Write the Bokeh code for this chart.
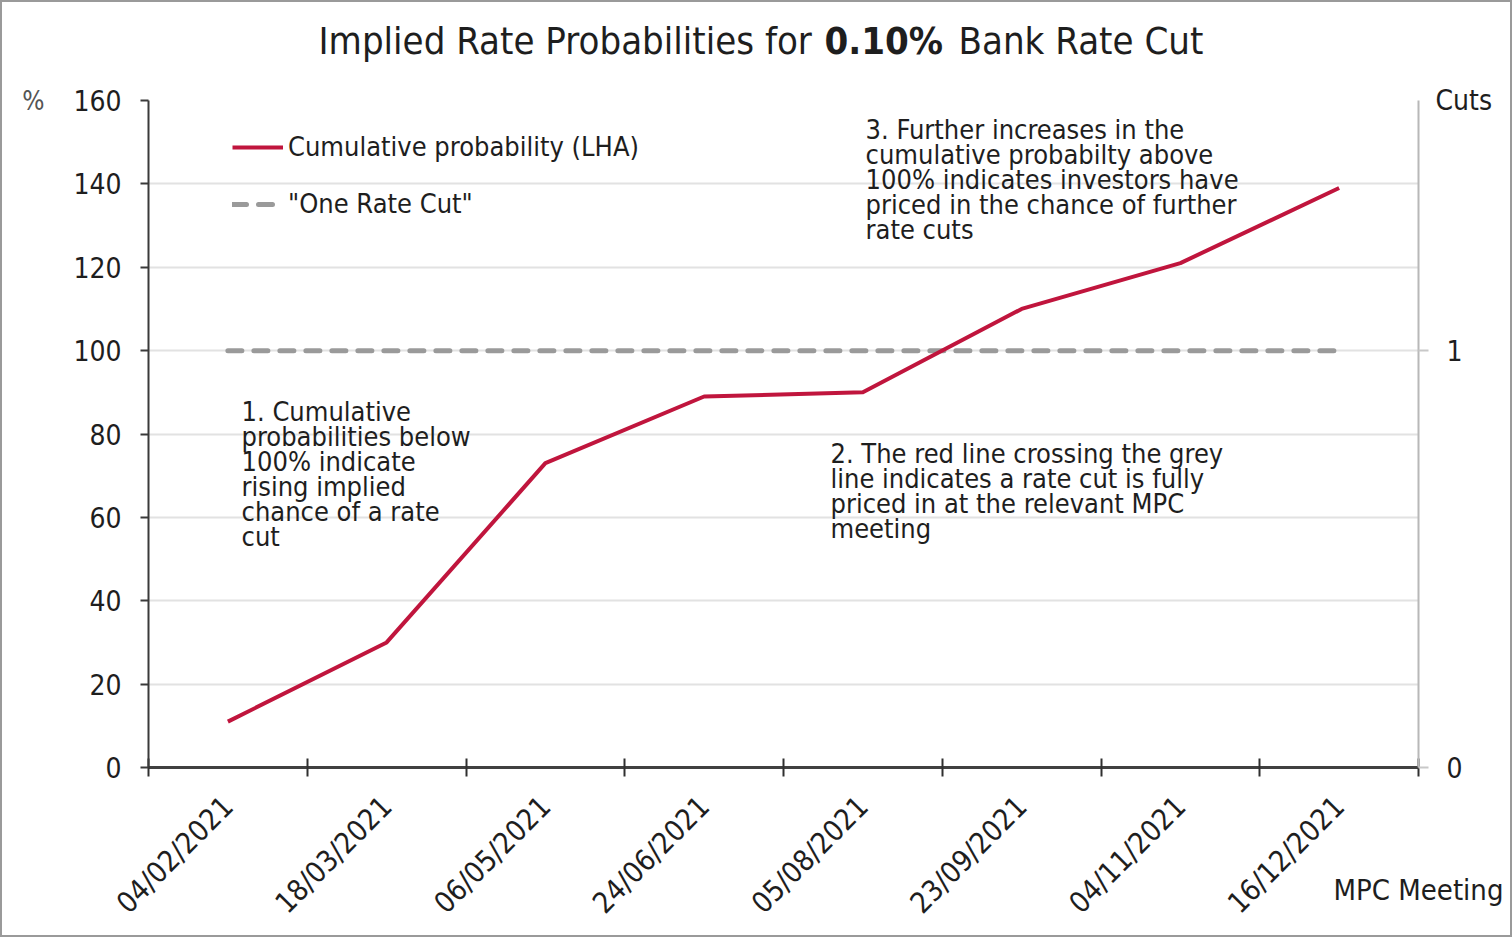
import math
from bokeh.plotting import figure
from bokeh.layouts import column
from bokeh.models import (Range1d, LinearAxis, FixedTicker, Label, Legend, LegendItem,
                          ColumnDataSource, Grid)
from bokeh.embed import file_html
from bokeh.resources import INLINE

# ---- data ----
meetings = ["04/02/2021", "18/03/2021", "06/05/2021", "24/06/2021",
            "05/08/2021", "23/09/2021", "04/11/2021", "16/12/2021"]
cum_prob = [11, 30, 73, 89, 90, 110, 121, 139]
one_rate_cut = [100, 100, 100, 100, 100, 100, 100, 100]
y_ticks = [0, 20, 40, 60, 80, 100, 120, 140, 160]
cuts_ticks = [0, 1]

note1 = ["1. Cumulative", "probabilities below", "100% indicate", "rising implied",
         "chance of a rate", "cut"]
note2 = ["2. The red line crossing the grey", "line indicates a rate cut is fully",
         "priced in at the relevant MPC", "meeting"]
note3 = ["3. Further increases in the", "cumulative probabilty above",
         "100% indicates investors have", "priced in the chance of further", "rate cuts"]

FONT = "DejaVu Sans Condensed"
TXT = "#1e1e1e"
RED = "#c0153d"
GREY = "#9a9a9a"
EDGE = "#9a9a9a"

W, H = 1512, 937
HEAD = 80
FR_L, FR_R = 148, 1418   # plot frame edges in page pixels

n = len(meetings)
xpos = [i + 0.5 for i in range(n)]
src = ColumnDataSource(dict(x=xpos, prob=cum_prob, one=one_rate_cut, meeting=meetings))

# ---------- header (title); its frame is aligned with the chart frame ----------
head = figure(width=W, height=HEAD, x_range=Range1d(FR_L, FR_R), y_range=Range1d(0, HEAD),
              output_backend="svg", toolbar_location=None,
              x_axis_location=None, y_axis_location=None,
              min_border_left=FR_L, min_border_right=W - FR_R,
              min_border_top=0, min_border_bottom=0)
head.outline_line_color = None
head.center = []
head.background_fill_color = None
head.border_fill_color = None
head.styles = {"box-shadow": f"inset 2px 2px 0 0 {EDGE}, inset -2px 0 0 0 {EDGE}"}


def hlabel(x, text, bold=False):
    head.add_layout(Label(x=x, y=HEAD - 40, text=text, text_font=FONT, text_font_size="38px",
                          text_color=TXT, text_font_style="bold" if bold else "normal",
                          text_align="left", text_baseline="middle"))


hlabel(318, "Implied Rate Probabilities for")
hlabel(824, "0.10%", bold=True)
hlabel(958, "Bank Rate Cut")

# ---------- main chart ----------
p = figure(width=W, height=H - HEAD, x_range=Range1d(0, n), y_range=Range1d(0, 160),
           output_backend="svg", toolbar_location=None,
           x_axis_location=None, y_axis_location=None,
           min_border_left=FR_L, min_border_right=W - FR_R, min_border_top=100 - HEAD,
           min_border_bottom=170)
p.outline_line_color = None
p.background_fill_color = None
p.border_fill_color = None
p.styles = {"box-shadow": f"inset 2px -2px 0 0 {EDGE}, inset -2px 0 0 0 {EDGE}"}
p.center = []  # drop default grids

PX_Y = 667 / 160.0
HAS_ALIGN = hasattr(LinearAxis, "axis_label_align")

grid = Grid(dimension=1, ticker=FixedTicker(ticks=y_ticks), grid_line_color="#e2e2e2", grid_line_width=2)
p.add_layout(grid, "center")

left = LinearAxis(ticker=FixedTicker(ticks=y_ticks), axis_line_color="#3a3a3a", axis_line_width=2,
                  major_tick_line_color="#3a3a3a", major_tick_line_width=2,
                  major_tick_in=0, major_tick_out=8, minor_tick_line_color=None,
                  major_label_standoff=19, major_label_text_font=FONT,
                  major_label_text_font_size="28px", major_label_text_color=TXT,
                  axis_label="%", axis_label_orientation="horizontal",
                  axis_label_standoff=26, axis_label_text_font=FONT,
                  axis_label_text_font_size="26px", axis_label_text_color="#555555",
                  axis_label_text_font_style="normal")
if HAS_ALIGN:
    left.axis_label_align = "end"
p.add_layout(left, "left")

p.extra_y_ranges = {"cuts": Range1d(0, 1.6)}
right = LinearAxis(y_range_name="cuts", ticker=FixedTicker(ticks=cuts_ticks),
                   axis_line_color="#b8b8b8", axis_line_width=2,
                   major_tick_line_color="#c8c8c8", major_tick_line_width=2,
                   major_tick_in=0, major_tick_out=10, minor_tick_line_color=None,
                   major_label_standoff=18, major_label_text_font=FONT,
                   major_label_text_font_size="28px", major_label_text_color=TXT,
                   axis_label="Cuts", axis_label_orientation="horizontal",
                   axis_label_standoff=-30, axis_label_text_font=FONT,
                   axis_label_text_font_size="28px", axis_label_text_color=TXT,
                   axis_label_text_font_style="normal")
if HAS_ALIGN:
    right.axis_label_align = "end"
p.add_layout(right, "right")

bottom = LinearAxis(ticker=FixedTicker(ticks=xpos, minor_ticks=list(range(n + 1))),
                    major_label_overrides={x: m for x, m in zip(xpos, meetings)},
                    axis_line_color="#404040", axis_line_width=3,
                    major_tick_line_color=None, major_tick_in=0, major_tick_out=0,
                    minor_tick_line_color="#303030", minor_tick_line_width=2,
                    minor_tick_in=9, minor_tick_out=9,
                    major_label_orientation=math.pi / 4, major_label_standoff=25,
                    major_label_text_font=FONT, major_label_text_font_size="29px",
                    major_label_text_color=TXT,
                    axis_label="MPC Meeting", axis_label_standoff=-62,
                    axis_label_text_font=FONT, axis_label_text_font_size="29px",
                    axis_label_text_color=TXT, axis_label_text_font_style="normal")
if HAS_ALIGN:
    bottom.axis_label_align = "end"
p.add_layout(bottom, "below")

r_dash = p.line("x", "one", source=src, line_color=GREY, line_width=5,
                line_dash="14 12", line_cap="round")
r_prob = p.line("x", "prob", source=src, line_color=RED, line_width=4, line_join="round")

legend = Legend(items=[LegendItem(label="Cumulative probability (LHA)", renderers=[r_prob]),
                       LegendItem(label='"One Rate Cut"', renderers=[r_dash])],
                location=(84, 548), orientation="vertical",
                border_line_color=None, background_fill_alpha=0,
                padding=0, margin=0, spacing=26, glyph_width=51, glyph_height=30,
                label_height=30, label_standoff=5,
                label_text_font=FONT, label_text_font_size="27px", label_text_color=TXT)
p.add_layout(legend, "center")


def note(lines, x, y_top, step_px=25):
    for i, line in enumerate(lines):
        p.add_layout(Label(x=x, y=y_top - i * step_px / PX_Y, text=line,
                           text_font=FONT, text_font_size="27px", text_color=TXT,
                           text_baseline="middle", text_align="left"))


note(note1, 0.586, 85.4)
note(note2, 4.296, 75.3)
note(note3, 4.517, 153.0)

layout = column(head, p, spacing=0)

open("out.html", "w").write(file_html(layout, INLINE))
